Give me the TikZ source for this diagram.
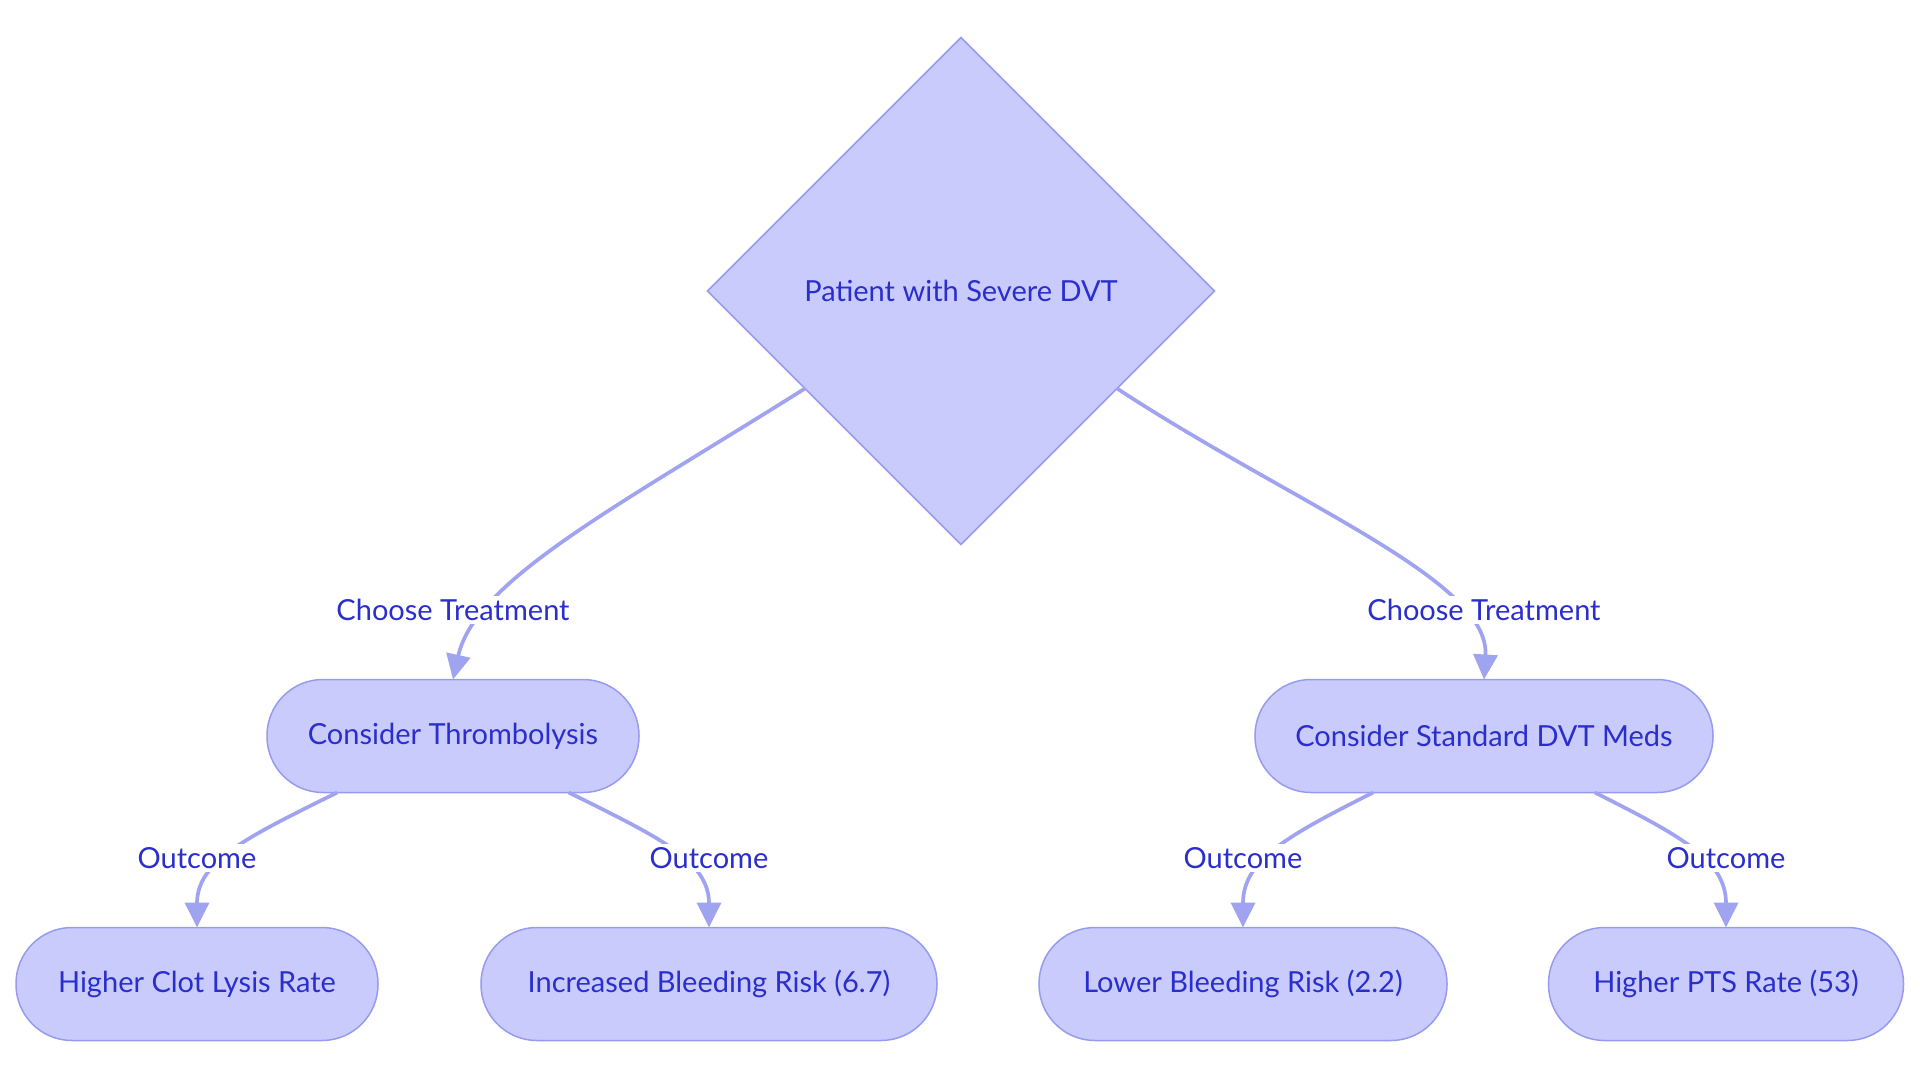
\documentclass[tikz,border=0pt]{standalone}
\usepackage{fontspec}
\setmainfont{Lato}
\usetikzlibrary{shapes.geometric,arrows.meta}
\definecolor{nodefill}{RGB}{201,203,252}
\definecolor{nodeline}{RGB}{150,155,238}
\definecolor{edgeline}{RGB}{160,164,240}
\definecolor{txt}{RGB}{42,46,204}
\begin{document}
\begin{tikzpicture}[x=1pt,y=-1pt,
  base/.style={font=\fontsize{29}{34}\selectfont, text=txt},
  stadium/.style={base, draw=nodeline, line width=1.5pt, fill=nodefill, rounded corners=56pt, minimum height=113pt, inner sep=0pt, outer sep=0pt},
  decision/.style={base, diamond, draw=nodeline, line width=1.5pt, fill=nodefill, minimum width=507pt, minimum height=507pt, inner sep=0pt, aspect=1, outer sep=0pt},
  elabel/.style={base, fill=white, inner sep=3pt},
  conn/.style={draw=edgeline, line width=3.7pt, -{Triangle[length=25pt,width=24pt]}}
]
\useasboundingbox (0,0) rectangle (1920,1083);
\node[decision] (d) at (961,291) {Patient with Severe DVT};
\node[stadium, minimum width=372pt] (tl) at (453,736) {Consider Thrombolysis};
\node[stadium, minimum width=458pt] (tr) at (1484,736) {Consider Standard DVT Meds};
\node[stadium, minimum width=362pt] (b1) at (197,984) {Higher Clot Lysis Rate};
\node[stadium, minimum width=456pt] (b2) at (709,984) {Increased Bleeding Risk (6.7)};
\node[stadium, minimum width=408pt] (b3) at (1243,984) {Lower Bleeding Risk (2.2)};
\node[stadium, minimum width=355pt] (b4) at (1726,984) {Higher PTS Rate (53)};
\draw[conn] (d.212) .. controls (620,505) and (475,580) .. (tl.north);
\draw[conn] (d.328) .. controls (1295,505) and (1490,580) .. (tr.north);
\draw[conn] (tl.206) .. controls (250,836) and (197,860) .. (b1.north);
\draw[conn] (tl.334) .. controls (656,836) and (709,860) .. (b2.north);
\draw[conn] (tr.207) .. controls (1287,836) and (1243,860) .. (b3.north);
\draw[conn] (tr.333) .. controls (1681,836) and (1726,860) .. (b4.north);
\node[elabel] (l1) at (453,610) {Choose Treatment};
\node[elabel] (l2) at (1484,610) {Choose Treatment};
\node[elabel] (l3) at (197,858) {Outcome};
\node[elabel] (l4) at (709,858) {Outcome};
\node[elabel] (l5) at (1243,858) {Outcome};
\node[elabel] (l6) at (1726,858) {Outcome};
\end{tikzpicture}
\end{document}
